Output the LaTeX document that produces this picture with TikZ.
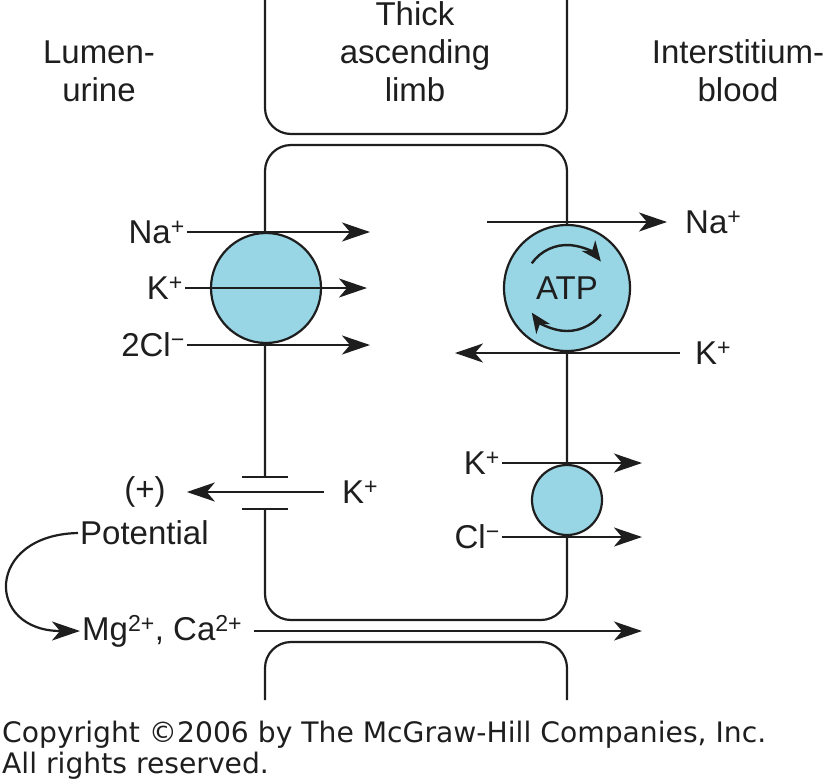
\documentclass[tikz,border=0pt]{standalone}
\usepackage{fontspec}
\setmainfont{Liberation Sans}
\newfontfamily\notefont{DejaVu Sans}
\usetikzlibrary{positioning,arrows.meta}
\definecolor{cyto}{RGB}{152,214,230}
\definecolor{ink}{RGB}{30,30,30}

\begin{document}
\begin{tikzpicture}[
  x=1pt, y=-1pt,
  font=\fontsize{33}{38}\selectfont,
  mem/.style={draw=ink, line width=2.2pt, rounded corners=26pt},
  pmp/.style={circle, draw=ink, line width=2.2pt, fill=cyto, inner sep=0pt, text=ink},
  ion/.style={inner sep=2pt, text=ink},
  hdr/.style={align=center, inner sep=0pt, text=ink},
  flw/.style={draw=ink, line width=2.2pt, -{Stealth[length=28pt,width=19pt,inset=8pt]}},
  spin/.style={draw=ink, line width=2.4pt, -{Stealth[length=20pt,width=17pt,inset=6pt]}},
  note/.style={anchor=base west, inner sep=0pt, text=ink,
               font=\notefont\fontsize{28.2}{31}\selectfont}
]
\useasboundingbox (0,0) rectangle (827,780);

% cells of the limb
\draw[mem] (265,0) -- (265,134) -- (567,134) -- (567,0);
\draw[mem] (265,477) -- (265,145) -- (567,145) -- (567,620) -- (265,620) -- (265,509);
\draw[mem] (265,700) -- (265,642) -- (567,642) -- (567,700);
\draw[draw=ink, line width=2.2pt] (242,477) -- (288,477) (242,509) -- (288,509);

% headings
\node[hdr] (lum) at (99,71) {Lumen-\\urine};
\node[hdr] (tal) at (415,52) {Thick\\ascending\\limb};
\node[hdr] (int) at (738,71) {Interstitium-\\blood};

% carriers
\node[pmp, minimum size=110pt] (nkcc) at (266,288) {};
\node[pmp, minimum size=126pt] (atp) at (567,288) {ATP};
\node[pmp, minimum size=70pt] (kcl) at (567,500) {};
\draw[spin] (atp.center) ++(215:43) arc[start angle=215, end angle=322, radius=43];
\draw[spin] (atp.center) ++(38:43) arc[start angle=38, end angle=145, radius=43];

% luminal side
\node[ion, anchor=east] (naL) at (187,232) {Na\textsuperscript{+}};
\node[ion, anchor=east] (kL) at (185,288) {K\textsuperscript{+}};
\node[ion, anchor=east] (clL) at (187,345) {2Cl\textsuperscript{−}};
\coordinate (naLe) at (370,232);
\coordinate (kLe) at (367,288);
\coordinate (clLe) at (370,345);
\draw[flw] (naL) -- (naLe);
\draw[flw] (kL) -- (kLe);
\draw[flw] (clL) -- (clLe);

% basolateral side
\coordinate (naRs) at (487,222);
\node[ion, anchor=west] (naR) at (683,222) {Na\textsuperscript{+}};
\draw[flw, shorten >=16pt] (naRs) -- (naR);
\node[ion, anchor=west] (kR) at (693,353) {K\textsuperscript{+}};
\coordinate (kRe) at (455,353);
\draw[flw, shorten <=13pt] (kR) -- (kRe);
\node[ion, anchor=east] (kS) at (502,463) {K\textsuperscript{+}};
\node[ion, anchor=east] (clS) at (502,537) {Cl\textsuperscript{−}};
\coordinate (kSe) at (642,463);
\coordinate (clSe) at (642,537);
\draw[flw] (kS) -- (kSe);
\draw[flw] (clS) -- (clSe);

% K+ channel and paracellular path
\node[ion] (kch) at (360,492) {K\textsuperscript{+}};
\node[ion] (plus) at (145,492) {(+)};
\draw[flw, shorten <=16pt, shorten >=19pt] (kch) -- (plus);
\node[ion, anchor=west] (pot) at (78,533) {Potential};
\node[ion, anchor=west] (mg) at (80,631) {Mg\textsuperscript{2+}, Ca\textsuperscript{2+}};
\coordinate (mge) at (642,631);
\draw[flw, shorten <=10pt] (mg) -- (mge);
\draw[flw] (pot.west) .. controls (-15,535) and (-15,631) .. (mg.west);

\node[note] (cpy) at (2,742) {Copyright ©2006 by The McGraw-Hill Companies, Inc.};
\node[note] (rts) at (2,773) {All rights reserved.};
\end{tikzpicture}
\end{document}
